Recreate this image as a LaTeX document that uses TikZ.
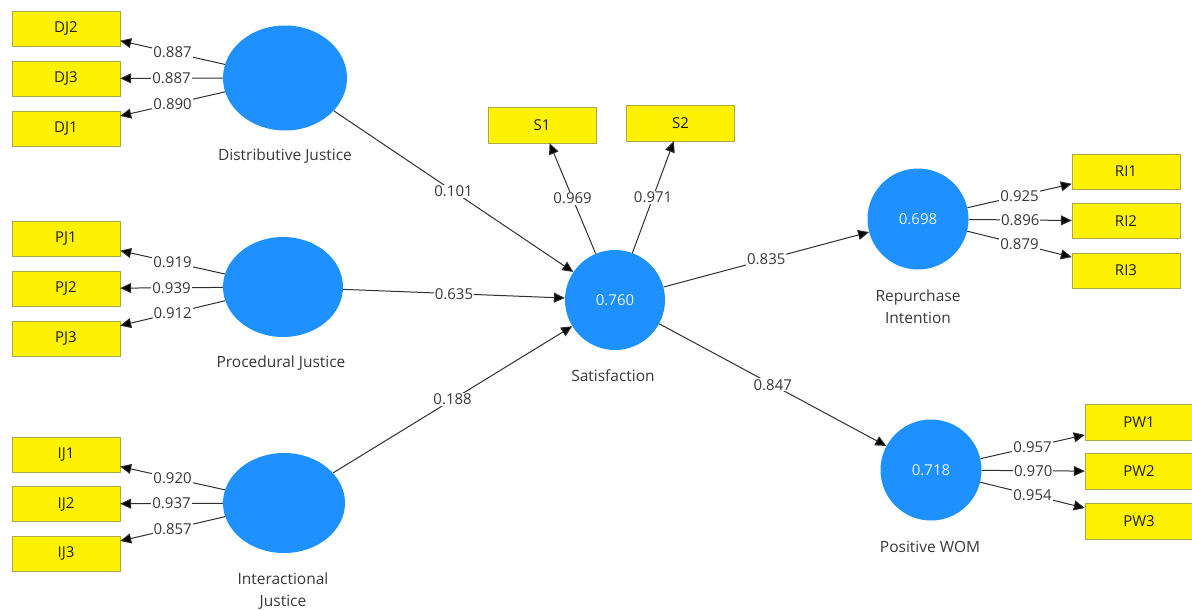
\documentclass[tikz,border=0pt]{standalone}
\usepackage{fontspec}
\setmainfont{Open Sans}
\usetikzlibrary{shapes.geometric,arrows.meta}

\tikzset{
  indicator/.style={draw=boxline, fill=yellow, minimum width=108pt, minimum height=35pt,
    inner sep=0pt, text=boxtext, font=\fontsize{15}{17}\selectfont},
  latent/.style={ellipse, fill=latentblue, inner sep=0pt, text=white!90!latentblue,
    font=\fontsize{15}{17}\selectfont},
  path/.style={-{Triangle[length=11pt,width=10pt,fill=black]}, draw=linegray, line width=1pt},
  coef/.style={fill=white, inner sep=1pt, text=labelgray, font=\fontsize{15}{17}\selectfont},
  caption/.style={text=labelgray, align=center, font=\fontsize{15.5}{22}\selectfont}
}

\begin{document}
\begin{tikzpicture}[x=1pt,y=-1pt]
		\definecolor{latentblue}{HTML}{1E90FF}
		\definecolor{boxline}{HTML}{A8A848}
		\definecolor{boxtext}{HTML}{202020}
		\definecolor{linegray}{HTML}{303030}
		\definecolor{labelgray}{HTML}{383838}
		\useasboundingbox (0,0) rectangle (1192,610);
		% latent variables
		\node[latent, minimum width=124pt, minimum height=105pt] (dj) at (285,78) {};
		\node[latent, minimum width=120pt, minimum height=100pt] (pj) at (283,287) {};
		\node[latent, minimum width=122pt, minimum height=100pt] (ij) at (284,503) {};
		\node[latent, minimum size=100pt] (sat) at (615,300) {0.760};
		\node[latent, minimum size=101pt] (ri) at (918,219) {0.698};
		\node[latent, minimum size=101pt] (pw) at (931,470) {0.718};
		% captions
		\node[caption] (djcap) at (285,156) {Distributive Justice};
		\node[caption] (pjcap) at (281,363) {Procedural Justice};
		\node[caption] (ijcap) at (283,591) {Interactional\\Justice};
		\node[caption] (satcap) at (613,376) {Satisfaction};
		\node[caption] (ricap) at (918,307) {Repurchase\\Intention};
		\node[caption] (pwcap) at (930,547) {Positive WOM};
		% indicators distributive justice
		\node[indicator] (dj2) at (66,28.5) {DJ2};
		\node[indicator] (dj3) at (66,78.5) {DJ3};
		\node[indicator] (dj1) at (66,128.5) {DJ1};
		% indicators procedural justice
		\node[indicator] (pj1) at (66,238.5) {PJ1};
		\node[indicator] (pj2) at (66,288.5) {PJ2};
		\node[indicator] (pj3) at (66,338.5) {PJ3};
		% indicators interactional justice
		\node[indicator] (ij1) at (66,454.5) {IJ1};
		\node[indicator] (ij2) at (66,504) {IJ2};
		\node[indicator] (ij3) at (66,553.5) {IJ3};
		% indicators satisfaction
		\node[indicator, minimum height=36pt] (s1) at (542,125) {S1};
		\node[indicator, minimum height=36pt] (s2) at (680.5,123) {S2};
		% indicators repurchase intention
		\node[indicator] (ri1) at (1126,171.5) {RI1};
		\node[indicator] (ri2) at (1126,221) {RI2};
		\node[indicator] (ri3) at (1126,270.5) {RI3};
		% indicators positive wom
		\node[indicator, minimum height=36pt] (pw1) at (1139,422.5) {PW1};
		\node[indicator, minimum height=36pt] (pw2) at (1139,471.5) {PW2};
		\node[indicator, minimum height=36pt] (pw3) at (1139,521.5) {PW3};
		% loadings
		\draw[path] (dj) -- node[coef] {0.887} (dj2);
		\draw[path] (dj) -- node[coef] {0.887} (dj3);
		\draw[path] (dj) -- node[coef] {0.890} (dj1);
		\draw[path] (pj) -- node[coef] {0.919} (pj1);
		\draw[path] (pj) -- node[coef] {0.939} (pj2);
		\draw[path] (pj) -- node[coef] {0.912} (pj3);
		\draw[path] (ij) -- node[coef] {0.920} (ij1);
		\draw[path] (ij) -- node[coef] {0.937} (ij2);
		\draw[path] (ij) -- node[coef] {0.857} (ij3);
		\draw[path] (sat) -- node[coef] {0.969} (s1);
		\draw[path] (sat) -- node[coef] {0.971} (s2);
		\draw[path] (ri) -- node[coef] {0.925} (ri1);
		\draw[path] (ri) -- node[coef] {0.896} (ri2);
		\draw[path] (ri) -- node[coef] {0.879} (ri3);
		\draw[path] (pw) -- node[coef] {0.957} (pw1);
		\draw[path] (pw) -- node[coef] {0.970} (pw2);
		\draw[path] (pw) -- node[coef] {0.954} (pw3);
		% structural paths
		\draw[path] (dj) -- node[coef] {0.101} (sat);
		\draw[path] (pj) -- node[coef] {0.635} (sat);
		\draw[path] (ij) -- node[coef] {0.188} (sat);
		\draw[path] (sat) -- node[coef] {0.835} (ri);
		\draw[path] (sat) -- node[coef] {0.847} (pw);
\end{tikzpicture}
\end{document}
